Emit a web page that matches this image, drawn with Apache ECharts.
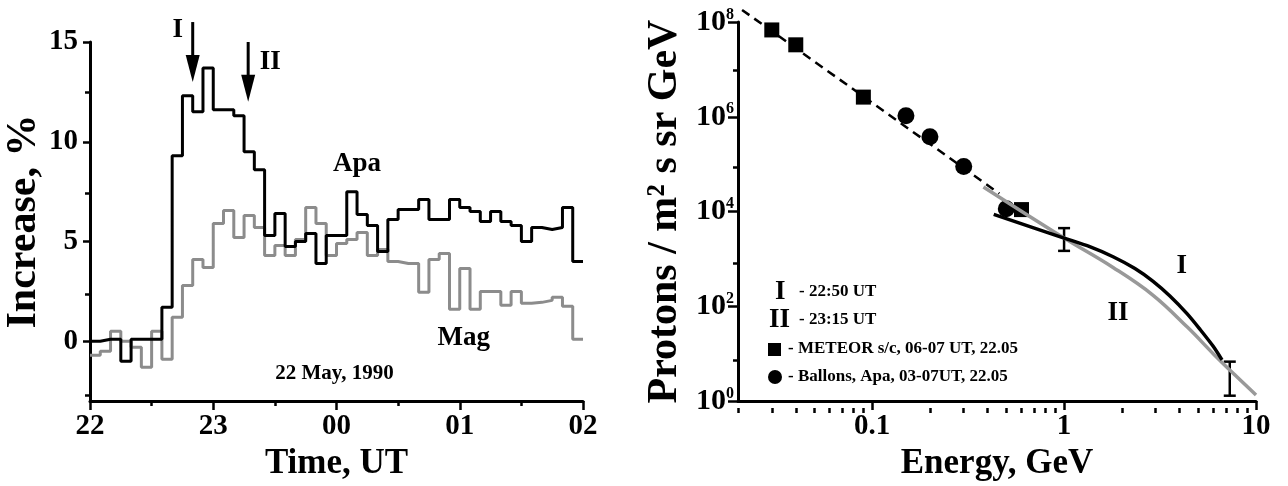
<!DOCTYPE html>
<html><head><meta charset="utf-8">
<script src="https://cdn.jsdelivr.net/npm/echarts@6/dist/echarts.min.js"></script>
<style>html,body{margin:0;padding:0;background:#fff}#c{width:1288px;height:486px}</style>
</head><body><div id="c"></div>
<script>
const FONT = '"Liberation Serif","Times New Roman",serif';

// ---------- Left panel: 5-min increase, % (22 May 1990) ----------
const binStartMin = [0,5,10,15,20,25,30,35,40,45,50,55,60,65,70,75,80,85,90,95,100,105,110,115,
  120,125,130,135,140,145,150,155,160,165,170,175,180,185,190,195,200,205,210,215,220,225,230,235,240];
const apaIncrease = [0.0,0.1,0.1,-1.0,0.1,0.1,0.1,1.7,9.3,12.3,11.5,13.7,11.6,11.6,11.3,9.5,8.6,5.3,6.4,4.75,
  5.0,5.4,3.9,5.3,5.3,7.5,6.35,5.8,4.5,6.1,6.6,6.6,7.1,6.1,6.1,7.1,6.7,6.5,6.0,6.5,6.0,5.8,5.0,5.7,5.6,5.7,6.7,4.0];
const magIncrease = [-0.7,-0.5,0.5,0.0,-0.3,-1.3,0.5,-0.9,1.2,2.8,4.1,3.7,5.9,6.55,5.2,6.3,5.7,4.3,4.8,4.3,
  5.1,6.7,5.9,4.3,4.9,5.1,5.45,4.3,4.6,4.0,3.9,3.9,2.45,4.1,4.4,1.6,3.65,1.6,2.5,2.5,1.8,2.5,1.9,1.95,2.05,2.2,1.75,0.1];
const timeTickLabels = ['22','23','00','01','02'];
const increaseTicks = [0,5,10,15];
const increaseMinorTicks = [-2.5,2.5,7.5,12.5];
const arrowMin = [50, 77];
const arrowTop = [16.0, 15.0];
const arrowTip = [13.0, 12.0];
const arrowText = ['I','II'];
const leftNoteMin = [130, 182, 119];
const leftNoteVal = [8.9, 0.15, -1.6];
const leftNoteText = ['Apa','Mag','22 May, 1990'];

// ---------- Right panel: proton spectrum ----------
const meteorE = [0.03, 0.04, 0.09, 0.6];
const meteorF = [6.8e7, 3.3e7, 2.6e6, 1.1e4];
const balloonE = [0.15, 0.2, 0.3, 0.5];
const balloonF = [1.05e6, 3.8e5, 8.9e4, 1.15e4];
const fitE = [0.021, 0.46];
const fitF = [1.8e8, 2.4e4];
const curveIE = [0.43, 1, 1.37, 1.8, 2.34, 2.91, 3.56, 4.37, 5.11, 5.97, 6.65];
const curveIF = [8.7e3, 2.76e3, 1795, 1114, 628, 337, 165, 70, 32.6, 14.5, 7.4];
const curveIIE = [0.38, 1, 1.8, 2.9, 4.4, 6.0, 7.8, 10];
const curveIIF = [3.3e4, 2.76e3, 660, 173, 36, 9.9, 3.5, 1.35];
const errE = [1, 7.3];
const errLow = [1480, 1.3];
const errHigh = [4470, 6.8];
const curveLabelE = [4.1, 1.91];
const curveLabelF = [724, 73];
const curveLabelText = ['I','II'];
const energyTicks = [0.1, 1, 10];
const energyTickLabels = ['0.1','1','10'];
const energyMinorTicks = [0.02,0.03,0.04,0.05,0.06,0.07,0.08,0.09,0.2,0.3,0.4,0.5,0.6,0.7,0.8,0.9,2,3,4,5,6,7,8,9];
const fluxTicks = [1, 1e2, 1e4, 1e6, 1e8];
const fluxMinorTicks = [1e1, 1e3, 1e5, 1e7];

const pairs = (xs, ys) => xs.map((x, i) => [x, ys[i]]);
const stepData = vals => binStartMin.map((t, i) => [t, vals[Math.min(i, vals.length - 1)]]);

const lbl = {color:'#000', fontFamily:FONT, fontWeight:'bold', fontSize:29};
const nameStyle = (s) => ({color:'#000', fontFamily:FONT, fontWeight:'bold', fontSize:s});
const blackLine = {color:'#000', width:3};

const chart = echarts.init(document.getElementById('c'), null, {renderer:'canvas'});
const option = {
  animation:false,
  backgroundColor:'#fff',
  textStyle:{fontFamily:FONT},
  grid:[
    {left:90, top:42, width:493, height:363},
    {left:90, top:42, width:493, height:363},
    {left:738, top:22, width:518, height:386},
    {left:738, top:22, width:518, height:386}
  ],
  xAxis:[
    {type:'value', gridIndex:0, min:0, max:240, interval:60,
     axisLine:{onZero:false, lineStyle:blackLine},
     axisTick:{length:9, lineStyle:{color:'#000', width:2.5}},
     minorTick:{show:true, splitNumber:2, length:5, lineStyle:{color:'#000', width:2.5}},
     splitLine:{show:false}, minorSplitLine:{show:false},
     axisLabel:{...lbl, margin:11, formatter:v => timeTickLabels[Math.round(v / 60)]},
     name:'Time, UT', nameLocation:'middle', nameGap:44, nameTextStyle:nameStyle(35)},
    {type:'value', gridIndex:1, min:0, max:240, show:false},
    {type:'log', gridIndex:2, min:0.02, max:10,
     axisLine:{onZero:false, lineStyle:blackLine},
     axisTick:{length:9, customValues:energyTicks, lineStyle:{color:'#000', width:2.5}},
     splitLine:{show:false}, minorTick:{show:false},
     axisLabel:{...lbl, margin:11, customValues:energyTicks,
       formatter:v => { const i = energyTicks.findIndex(t => Math.abs(Math.log10(t) - Math.log10(v)) < 1e-6); return i >= 0 ? energyTickLabels[i] : ''; }},
     name:'Energy, GeV', nameLocation:'middle', nameGap:44, nameTextStyle:nameStyle(35)},
    {type:'log', gridIndex:3, min:0.02, max:10,
     axisLine:{show:false, onZero:false},
     axisTick:{length:5, customValues:energyMinorTicks, lineStyle:{color:'#000', width:2.5}},
     axisLabel:{show:false}, splitLine:{show:false}}
  ],
  yAxis:[
    {type:'value', gridIndex:0, min:-3, max:15,
     axisLine:{onZero:false, lineStyle:blackLine},
     axisTick:{length:7, customValues:increaseTicks, lineStyle:{color:'#000', width:2.5}},
     splitLine:{show:false},
     axisLabel:{...lbl, margin:12, customValues:increaseTicks},
     name:'Increase, %', nameLocation:'middle', nameRotate:90, nameGap:42, nameTextStyle:nameStyle(42)},
    {type:'value', gridIndex:1, min:-3, max:15,
     axisLine:{show:false, onZero:false},
     axisTick:{length:5, customValues:increaseMinorTicks, lineStyle:{color:'#000', width:2.5}},
     axisLabel:{show:false}, splitLine:{show:false}},
    {type:'log', gridIndex:2, min:1, max:1e8,
     axisLine:{onZero:false, lineStyle:blackLine},
     axisTick:{length:10, customValues:fluxTicks, lineStyle:{color:'#000', width:2.5}},
     splitLine:{show:false},
     axisLabel:{customValues:fluxTicks, margin:4,
       formatter:v => '{b|10}{s|' + Math.round(Math.log10(v)) + '}',
       rich:{b:{...lbl, fontSize:30}, s:{...lbl, fontSize:16, padding:[0,0,15,0]}}},
     name:'Protons / m² s sr GeV', nameLocation:'middle', nameRotate:90, nameGap:52, nameTextStyle:nameStyle(42)},
    {type:'log', gridIndex:3, min:1, max:1e8,
     axisLine:{show:false, onZero:false},
     axisTick:{length:5, customValues:fluxMinorTicks, lineStyle:{color:'#000', width:2.5}},
     axisLabel:{show:false}, splitLine:{show:false}}
  ],
  graphic:[
    {type:'text', left:775, top:279, style:{text:'I', fill:'#000', font:'bold 27px ' + FONT}},
    {type:'text', left:799, top:283, style:{text:'- 22:50 UT', fill:'#000', font:'bold 17px ' + FONT}},
    {type:'text', left:769, top:307, style:{text:'II', fill:'#000', font:'bold 27px ' + FONT}},
    {type:'text', left:799, top:311, style:{text:'- 23:15 UT', fill:'#000', font:'bold 17px ' + FONT}},
    {type:'rect', left:768, top:343, shape:{width:13, height:13}, style:{fill:'#000'}},
    {type:'text', left:788, top:340, style:{text:'- METEOR s/c, 06-07 UT, 22.05', fill:'#000', font:'bold 17px ' + FONT}},
    {type:'circle', left:768, top:370, shape:{r:7}, style:{fill:'#000'}},
    {type:'text', left:788, top:368, style:{text:'- Ballons, Apa, 03-07UT, 22.05', fill:'#000', font:'bold 17px ' + FONT}}
  ],
  series:[
    {name:'Mag', type:'line', xAxisIndex:0, yAxisIndex:0, step:'end', symbol:'none',
     data:stepData(magIncrease), lineStyle:{color:'#8c8c8c', width:3}},
    {name:'Apa', type:'line', xAxisIndex:0, yAxisIndex:0, step:'end', symbol:'none',
     data:stepData(apaIncrease), lineStyle:{color:'#000', width:3}},
    {type:'custom', xAxisIndex:0, yAxisIndex:0, clip:false, silent:true,
     data:pairs(arrowMin, arrowTop).map((p, i) => [p[0], p[1], arrowTip[i]]),
     renderItem:(params, api) => {
       const i = params.dataIndex;
       const top = api.coord([api.value(0), api.value(1)]);
       const tip = api.coord([api.value(0), api.value(2)]);
       const head = 27, hw = 7;
       const off = i === 0 ? [-15, 8] : [22, 20];
       return {type:'group', children:[
         {type:'line', shape:{x1:top[0], y1:top[1], x2:tip[0], y2:tip[1] - head + 2}, style:{stroke:'#000', lineWidth:3}},
         {type:'polygon', shape:{points:[[tip[0] - hw, tip[1] - head], [tip[0] + hw, tip[1] - head], [tip[0], tip[1]]]}, style:{fill:'#000'}},
         {type:'text', x:top[0] + off[0], y:top[1] + off[1], style:{text:arrowText[i], fill:'#000', font:'bold 27px ' + FONT, align:'center', verticalAlign:'middle'}}
       ]};
     }},
    {type:'custom', xAxisIndex:0, yAxisIndex:0, clip:false, silent:true,
     data:pairs(leftNoteMin, leftNoteVal),
     renderItem:(params, api) => {
       const i = params.dataIndex;
       const p = api.coord([api.value(0), api.value(1)]);
       const fs = i === 2 ? 21 : 27;
       return {type:'text', x:p[0], y:p[1], style:{text:leftNoteText[i], fill:'#000', font:'bold ' + fs + 'px ' + FONT, align:'center', verticalAlign:'middle'}};
     }},
    {name:'fit', type:'line', xAxisIndex:2, yAxisIndex:2, symbol:'none', clip:false,
     data:pairs(fitE, fitF), lineStyle:{color:'#000', width:2.5, type:[9,6]}},
    {name:'II', type:'line', xAxisIndex:2, yAxisIndex:2, symbol:'none', smooth:0.4,
     data:pairs(curveIIE, curveIIF), lineStyle:{color:'#999', width:3.5}},
    {name:'I', type:'line', xAxisIndex:2, yAxisIndex:2, symbol:'none', smooth:0.3,
     data:pairs(curveIE, curveIF), lineStyle:{color:'#000', width:3.5}},
    {name:'METEOR', type:'scatter', xAxisIndex:2, yAxisIndex:2, symbol:'rect', symbolSize:15,
     data:pairs(meteorE, meteorF), itemStyle:{color:'#000', opacity:1}},
    {name:'Balloons', type:'scatter', xAxisIndex:2, yAxisIndex:2, symbol:'circle', symbolSize:17,
     data:pairs(balloonE, balloonF), itemStyle:{color:'#000', opacity:1}},
    {type:'custom', xAxisIndex:2, yAxisIndex:2, clip:false, silent:true,
     data:errE.map((e, i) => [e, errLow[i], errHigh[i]]),
     renderItem:(params, api) => {
       const lo = api.coord([api.value(0), api.value(1)]);
       const hi = api.coord([api.value(0), api.value(2)]);
       const c = 6;
       const st = {stroke:'#000', lineWidth:2.5};
       return {type:'group', children:[
         {type:'line', shape:{x1:lo[0], y1:lo[1], x2:hi[0], y2:hi[1]}, style:st},
         {type:'line', shape:{x1:lo[0] - c, y1:lo[1], x2:lo[0] + c, y2:lo[1]}, style:st},
         {type:'line', shape:{x1:hi[0] - c, y1:hi[1], x2:hi[0] + c, y2:hi[1]}, style:st}
       ]};
     }},
    {type:'custom', xAxisIndex:2, yAxisIndex:2, clip:false, silent:true,
     data:pairs(curveLabelE, curveLabelF),
     renderItem:(params, api) => {
       const p = api.coord([api.value(0), api.value(1)]);
       return {type:'text', x:p[0], y:p[1], style:{text:curveLabelText[params.dataIndex], fill:'#000', font:'bold 27px ' + FONT, align:'center', verticalAlign:'middle'}};
     }}
  ]
};
chart.setOption(option);
</script>
</body></html>
